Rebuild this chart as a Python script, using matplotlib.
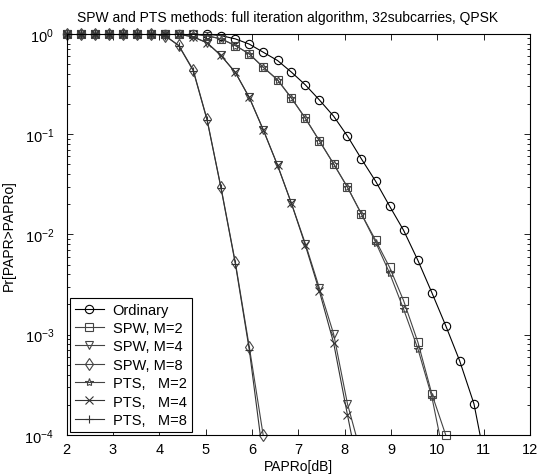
import numpy as np
import matplotlib
matplotlib.use("Agg")
import matplotlib.pyplot as plt
from matplotlib.lines import Line2D

plt.rcParams['font.family'] = ['Liberation Sans', 'DejaVu Sans']

# PAPR0 grid (dB), 34 points from 2 to 12
papr0 = [2.00, 2.30, 2.61, 2.91, 3.21, 3.52, 3.82, 4.12, 4.42, 4.73,
         5.03, 5.33, 5.64, 5.94, 6.24, 6.55, 6.85, 7.15, 7.45, 7.76,
         8.06, 8.36, 8.67, 8.97, 9.27, 9.58, 9.88, 10.18, 10.48, 10.79,
         11.09, 11.39, 11.70, 12.00]

nan = np.nan
ordinary = [1, 1, 1, 1, 1, 1, 1, 1, 1, 0.998,
            0.99, 0.96, 0.89, 0.79, 0.656, 0.542, 0.415, 0.310, 0.220, 0.151,
            0.0955, 0.0566, 0.0337, 0.0191, 0.011, 0.0055, 0.00263, 0.00123, 0.00055, 0.000204,
            4e-5, nan, nan, nan]
spw_m2 = [1, 1, 1, 1, 1, 1, 1, 1, 1, 0.998,
          0.955, 0.891, 0.764, 0.631, 0.465, 0.348, 0.229, 0.144, 0.0863, 0.0505,
          0.0295, 0.016, 0.0087, 0.00468, 0.00219, 0.00084, 0.000257, 0.0001, nan, nan,
          nan, nan, nan, nan]
spw_m4 = [1, 1, 1, 1, 1, 1, 1, 1, 0.99, 0.933,
          0.813, 0.608, 0.412, 0.232, 0.111, 0.049, 0.0204, 0.0081, 0.00295, 0.00102,
          0.000204, 6.3e-5, nan, nan, nan, nan, nan, nan, nan, nan,
          nan, nan, nan, nan]
spw_m8 = [1, 1, 1, 1, 1, 1, 1, 0.96, 0.766, 0.437,
          0.14, 0.0295, 0.00525, 0.00076, 0.0001, nan, nan, nan, nan, nan,
          nan, nan, nan, nan, nan, nan, nan, nan, nan, nan,
          nan, nan, nan, nan]
pts_m2 = [1, 1, 1, 1, 1, 1, 1, 1, 1, 0.998,
          0.955, 0.891, 0.764, 0.631, 0.465, 0.348, 0.229, 0.144, 0.0863, 0.0505,
          0.0295, 0.016, 0.0083, 0.0041, 0.0018, 0.00072, 0.00024, 5e-5, nan, nan,
          nan, nan, nan, nan]
pts_m4 = [1, 1, 1, 1, 1, 1, 1, 1, 0.99, 0.933,
          0.813, 0.608, 0.412, 0.232, 0.111, 0.049, 0.0204, 0.0078, 0.00275, 0.00083,
          0.000158, 3.2e-5, nan, nan, nan, nan, nan, nan, nan, nan,
          nan, nan, nan, nan]
pts_m8 = [1, 1, 1, 1, 1, 1, 1, 0.96, 0.76, 0.43,
          0.138, 0.029, 0.0051, 0.00071, 6e-5, nan, nan, nan, nan, nan,
          nan, nan, nan, nan, nan, nan, nan, nan, nan, nan,
          nan, nan, nan, nan]

series = [
    ("Ordinary", ordinary, 'o', 'black'),
    ("SPW, M=2", spw_m2, 's', '#444444'),
    ("SPW, M=4", spw_m4, 'v', '#444444'),
    ("SPW, M=8", spw_m8, 'd', '#444444'),
    ("PTS,   M=2", pts_m2, '*', '#444444'),
    ("PTS,   M=4", pts_m4, 'x', '#333333'),
    ("PTS,   M=8", pts_m8, '+', '#333333'),
]

fig = plt.figure(figsize=(5.51, 4.77), dpi=100)
ax = fig.add_axes([0.121, 0.086, 0.841, 0.841])

handles = []
for label, vals, mk, col in series:
    x = np.array(papr0)
    y = np.array(vals, dtype=float)
    # line clipped to the axes
    ax.semilogy(x, y, color=col, linewidth=0.8)
    # markers drawn in full (like MATLAB) for points inside the y-range
    inside = y >= 0.99e-4
    mstyle = dict(marker=mk, markersize=6, markerfacecolor='none',
                  markeredgecolor=col, markeredgewidth=0.8)
    ax.plot(x[inside], y[inside], linestyle='none', clip_on=False, **mstyle)
    handles.append(Line2D([0], [0], color=col, linewidth=0.8, label=label, **mstyle))

ax.set_xlim(2, 12)
ax.set_ylim(1e-4, 1)
ax.set_xticks(range(2, 13))
ax.tick_params(which='both', direction='in', top=True, right=True,
               labelsize=10.5, width=0.6)
ax.tick_params(which='major', length=4)
ax.tick_params(which='minor', length=2)
ax.tick_params(axis='y', pad=9)
ax.tick_params(axis='x', pad=5)
for s in ax.spines.values():
    s.set_linewidth(0.8)

ax.set_title("SPW and PTS methods: full iteration algorithm, 32subcarries, QPSK",
             fontsize=10, pad=9, x=0.477)
ax.set_xlabel("PAPRo[dB]", fontsize=10, labelpad=2)
ax.set_ylabel("Pr[PAPR>PAPRo]", fontsize=10, labelpad=6)

leg = ax.legend(handles=handles, loc='lower left', fontsize=10.5, fancybox=False,
                edgecolor='black', framealpha=1, borderaxespad=0.2,
                handlelength=2.0, labelspacing=0.3, borderpad=0.35,
                handletextpad=0.6)
leg.get_frame().set_linewidth(0.8)
leg.set_zorder(5)

fig.savefig("out.png", dpi=100)
